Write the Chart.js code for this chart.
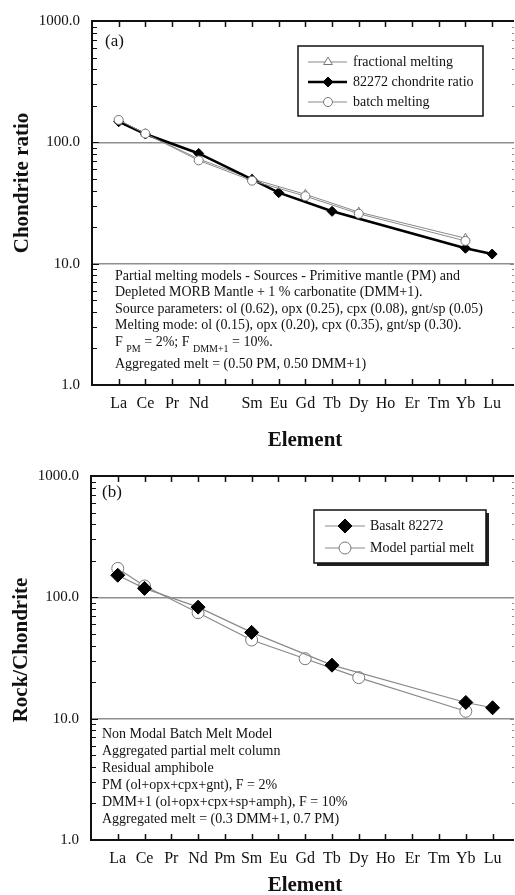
<!DOCTYPE html>
<html>
<head>
<meta charset="utf-8">
<script src="https://cdn.jsdelivr.net/npm/chart.js@4"></script>
<style>
  body { margin: 0; background: #fff; }
  .wrap { position: relative; width: 515px; height: 895px; overflow: hidden; }
  canvas { position: absolute; left: 0; }
  #chartA { top: 0; }
  #chartB { top: 455px; }
</style>
</head>
<body>
<div class="wrap">
  <canvas id="chartA" width="515" height="455"></canvas>
  <canvas id="chartB" width="515" height="440"></canvas>
</div>
<script>
// REE order, x = 1..15
const elements = ["La", "Ce", "Pr", "Nd", "Pm", "Sm", "Eu", "Gd", "Tb", "Dy", "Ho", "Er", "Tm", "Yb", "Lu"];
const tickLabelsA = ["La", "Ce", "Pr", "Nd", "", "Sm", "Eu", "Gd", "Tb", "Dy", "Ho", "Er", "Tm", "Yb", "Lu"];
const tickLabelsB = elements;
const yTicks = [1, 10, 100, 1000];

// panel (a)
const fractionalA = [152, 118, null, 73, null, 50, null, 37.3, null, 26.6, null, null, null, 16.2, null];
const sampleA     = [148, 117, null, 81, null, 49.5, 38.5, null, 27, null, null, null, null, 13.4, 12];
const sampleErrA  = [8, 6, null, 4, null, 2.5, 2.2, null, 1.5, null, null, null, null, 0.8, 0.7];
const batchA      = [153, 118, null, 71, null, 48.3, null, 36, null, 25.8, null, null, null, 15.4, null];

// panel (b)
const basaltB = [152, 118.5, null, 83, null, 51.4, null, null, 27.6, null, null, null, null, 13.6, 12.3];
const modelB  = [173, 124, null, 74.7, null, 44.5, null, 31.2, null, 21.8, null, null, null, 11.5, null];

const FONT = '"Liberation Serif", "Times New Roman", serif';

const toPoints = (arr) => arr.map((v, i) => (v == null ? null : { x: i + 1, y: v })).filter(Boolean);

function drawText(ctx, segs, x, y) {
  // segments with optional subscript
  let cx = x;
  for (const s of segs) {
    ctx.font = s.sub ? `10px ${FONT}` : `14px ${FONT}`;
    ctx.fillText(s.t, cx, s.sub ? y + 7 : y);
    cx += ctx.measureText(s.t).width;
  }
}

function framePlugin(cfg) {
  return {
    id: "frame" + cfg.panel,
    beforeDatasetsDraw(chart) {
      if (!cfg.errors) return;
      const { ctx } = chart;
      const xs = chart.scales.x, ys = chart.scales.y;
      ctx.save();
      ctx.strokeStyle = "#5b5bd6";
      ctx.lineWidth = 1.2;
      cfg.errors.forEach((e, i) => {
        const v = cfg.errBase[i];
        if (e == null || v == null) return;
        const x = xs.getPixelForValue(i + 1);
        const y1 = ys.getPixelForValue(v + e), y2 = ys.getPixelForValue(v - e);
        ctx.beginPath();
        ctx.moveTo(x, y1); ctx.lineTo(x, y2);
        ctx.moveTo(x - 2, y1); ctx.lineTo(x + 2, y1);
        ctx.moveTo(x - 2, y2); ctx.lineTo(x + 2, y2);
        ctx.stroke();
      });
      ctx.restore();
    },
    afterDraw(chart) {
      const { ctx, chartArea: a } = chart;
      const xs = chart.scales.x, ys = chart.scales.y;
      ctx.save();

      // frame: left, top, bottom
      ctx.strokeStyle = "#111";
      ctx.lineWidth = 2;
      ctx.beginPath();
      ctx.moveTo(a.right, a.top); ctx.lineTo(a.left, a.top);
      ctx.lineTo(a.left, a.bottom); ctx.lineTo(a.right, a.bottom);
      ctx.stroke();

      // inward x ticks, top and bottom
      ctx.lineWidth = 1.5;
      ctx.beginPath();
      for (let i = 1; i <= elements.length; i++) {
        const x = Math.round(xs.getPixelForValue(i)) + 0.5;
        ctx.moveTo(x, a.bottom); ctx.lineTo(x, a.bottom - 6);
        ctx.moveTo(x, a.top); ctx.lineTo(x, a.top + 6);
      }
      ctx.stroke();

      // log minor ticks on left (inward) and right edge
      ctx.lineWidth = 1.2;
      ctx.beginPath();
      for (let d = 1; d <= 100; d *= 10) {
        for (let m = 1; m <= 9; m++) {
          const v = m * d;
          if (v === 1) continue;
          const y = Math.round(ys.getPixelForValue(v)) + 0.5;
          const len = m === 1 ? 7 : 5;
          ctx.moveTo(a.left, y); ctx.lineTo(a.left + len, y);
        }
      }
      ctx.stroke();
      ctx.strokeStyle = "#888";
      ctx.lineWidth = 1;
      ctx.beginPath();
      for (let d = 1; d <= 100; d *= 10) {
        for (let m = 1; m <= 9; m++) {
          const v = m * d;
          if (v === 1) continue;
          const y = Math.round(ys.getPixelForValue(v)) + 0.5;
          ctx.moveTo(a.right - (m === 1 ? 4 : 2), y); ctx.lineTo(a.right, y);
        }
      }
      ctx.stroke();

      ctx.fillStyle = "#111";
      ctx.textBaseline = "middle";

      // panel label
      ctx.font = `17px ${FONT}`;
      ctx.textAlign = "left";
      ctx.fillText(cfg.panel, cfg.panelPos[0], cfg.panelPos[1]);

      // notes
      cfg.notes.forEach((line, k) => {
        drawText(ctx, Array.isArray(line) ? line : [{ t: line }], cfg.notesX, cfg.notesY[k]);
      });

      // legend
      const L = cfg.legend;
      if (L.shadow) {
        ctx.fillStyle = "#222";
        ctx.fillRect(L.box[0] + 3, L.box[1] + 3, L.box[2], L.box[3]);
        ctx.fillStyle = "#fff";
        ctx.fillRect(L.box[0], L.box[1], L.box[2], L.box[3]);
      }
      ctx.strokeStyle = "#111";
      ctx.lineWidth = 1.5;
      ctx.strokeRect(L.box[0], L.box[1], L.box[2], L.box[3]);
      L.items.forEach((idx, k) => {
        const ds = chart.data.datasets[idx];
        const y = L.rowsY[k];
        ctx.strokeStyle = ds.borderColor;
        ctx.lineWidth = ds.borderWidth;
        ctx.beginPath();
        ctx.moveTo(L.lineX[0], y); ctx.lineTo(L.lineX[1], y);
        ctx.stroke();
        ctx.fillStyle = ds.pointBackgroundColor;
        ctx.strokeStyle = ds.pointBorderColor;
        ctx.lineWidth = ds.pointBorderWidth;
        Chart.helpers.drawPoint(ctx, {
          pointStyle: ds.pointStyle, radius: ds.pointRadius, rotation: 0, borderWidth: ds.pointBorderWidth
        }, L.markerX, y);
        ctx.fillStyle = "#111";
        ctx.font = `14px ${FONT}`;
        ctx.textAlign = "left";
        ctx.fillText(ds.label, L.textX, y);
      });

      // axis titles
      ctx.fillStyle = "#111";
      ctx.font = `bold 21px ${FONT}`;
      ctx.textAlign = "center";
      ctx.fillText("Element", cfg.xTitlePos[0], cfg.xTitlePos[1]);
      ctx.translate(cfg.yTitlePos[0], cfg.yTitlePos[1]);
      ctx.rotate(-Math.PI / 2);
      ctx.fillText(cfg.yTitle, 0, 0);
      ctx.restore();
    }
  };
}

function makeOptions(yAxisWidth, xAxisHeight, padTop, xMax, xLabels) {
  return {
    responsive: false,
    animation: false,
    devicePixelRatio: 1,
    layout: { padding: { top: padTop, right: 1, left: 0, bottom: 0 }, autoPadding: false },
    plugins: { legend: { display: false }, tooltip: { enabled: false } },
    scales: {
      x: {
        type: "linear",
        min: 0,
        max: xMax,
        afterBuildTicks: (s) => { s.ticks = elements.map((e, i) => ({ value: i + 1 })); },
        afterFit: (s) => { s.height = xAxisHeight; },
        grid: { display: false },
        border: { display: false },
        ticks: {
          autoSkip: false,
          maxRotation: 0,
          padding: 1,
          color: "#111",
          font: { family: FONT, size: 16 },
          callback: (v) => xLabels[v - 1] || ""
        }
      },
      y: {
        type: "logarithmic",
        min: 1,
        max: 1000,
        afterBuildTicks: (s) => { s.ticks = yTicks.map((v) => ({ value: v })); },
        afterFit: (s) => { s.width = yAxisWidth; },
        grid: {
          drawTicks: false,
          lineWidth: 1.6,
          color: (c) => (c.tick && (c.tick.value === 10 || c.tick.value === 100)) ? "#8f8f8f" : "rgba(0,0,0,0)"
        },
        border: { display: false },
        ticks: {
          padding: 12,
          color: "#111",
          font: { family: FONT, size: 15 },
          callback: (v) => Number(v).toFixed(1)
        }
      }
    }
  };
}

// (a) partial melting models
new Chart(document.getElementById("chartA"), {
  type: "line",
  data: {
    datasets: [
      {
        label: "fractional melting",
        data: toPoints(fractionalA),
        borderColor: "#8a8a8a", borderWidth: 1,
        pointStyle: "triangle", pointRadius: 5,
        pointBackgroundColor: "#fff", pointBorderColor: "#777", pointBorderWidth: 1,
        order: 3
      },
      {
        label: "82272 chondrite ratio",
        data: toPoints(sampleA),
        borderColor: "#000", borderWidth: 2.6,
        pointStyle: "rectRot", pointRadius: 5,
        pointBackgroundColor: "#000", pointBorderColor: "#000", pointBorderWidth: 1,
        order: 2
      },
      {
        label: "batch melting",
        data: toPoints(batchA),
        borderColor: "#8a8a8a", borderWidth: 1,
        pointStyle: "circle", pointRadius: 4.5,
        pointBackgroundColor: "#fff", pointBorderColor: "#777", pointBorderWidth: 1,
        order: 1
      }
    ]
  },
  options: makeOptions(92, 70, 19, 15.82, tickLabelsA),
  plugins: [framePlugin({
    panel: "(a)", panelPos: [105, 42],
    yTitle: "Chondrite ratio", yTitlePos: [23, 183],
    xTitlePos: [305, 441],
    errors: sampleErrA, errBase: sampleA,
    notesX: 115,
    notesY: [276, 292.5, 309, 325.5, 342, 364],
    notes: [
      "Partial melting models - Sources - Primitive mantle (PM) and",
      "Depleted MORB Mantle + 1 % carbonatite (DMM+1).",
      "Source parameters: ol (0.62), opx (0.25), cpx (0.08), gnt/sp (0.05)",
      "Melting mode: ol (0.15), opx (0.20), cpx (0.35), gnt/sp (0.30).",
      [{ t: "F " }, { t: "PM", sub: true }, { t: " = 2%; F " }, { t: "DMM+1", sub: true }, { t: " = 10%." }],
      "Aggregated melt = (0.50 PM, 0.50 DMM+1)"
    ],
    legend: {
      box: [298, 46, 185, 70], rowsY: [62, 82, 102],
      lineX: [308, 347], markerX: 328, textX: 353, items: [0, 1, 2]
    }
  })]
});

// (b) non modal batch melt model
new Chart(document.getElementById("chartB"), {
  type: "line",
  data: {
    datasets: [
      {
        label: "Basalt 82272",
        data: toPoints(basaltB),
        borderColor: "#8a8a8a", borderWidth: 1.2,
        pointStyle: "rectRot", pointRadius: 7,
        pointBackgroundColor: "#000", pointBorderColor: "#000", pointBorderWidth: 1,
        order: 1
      },
      {
        label: "Model partial melt",
        data: toPoints(modelB),
        borderColor: "#8a8a8a", borderWidth: 1.2,
        pointStyle: "circle", pointRadius: 6,
        pointBackgroundColor: "#fff", pointBorderColor: "#777", pointBorderWidth: 1,
        order: 2
      }
    ]
  },
  options: makeOptions(91, 55, 15, 15.8, tickLabelsB),
  plugins: [framePlugin({
    panel: "(b)", panelPos: [102, 38],
    yTitle: "Rock/Chondrite", yTitlePos: [22, 195],
    xTitlePos: [305, 431],
    notesX: 102,
    notesY: [279, 296, 313, 330, 347, 364],
    notes: [
      "Non Modal Batch Melt Model",
      "Aggregated partial melt column",
      "Residual amphibole",
      "PM (ol+opx+cpx+gnt), F = 2%",
      "DMM+1 (ol+opx+cpx+sp+amph), F = 10%",
      "Aggregated melt = (0.3 DMM+1, 0.7 PM)"
    ],
    legend: {
      box: [314, 55, 172, 53], rowsY: [71, 93], shadow: true,
      lineX: [325, 365], markerX: 345, textX: 370, items: [0, 1]
    }
  })]
});
</script>
</body>
</html>
